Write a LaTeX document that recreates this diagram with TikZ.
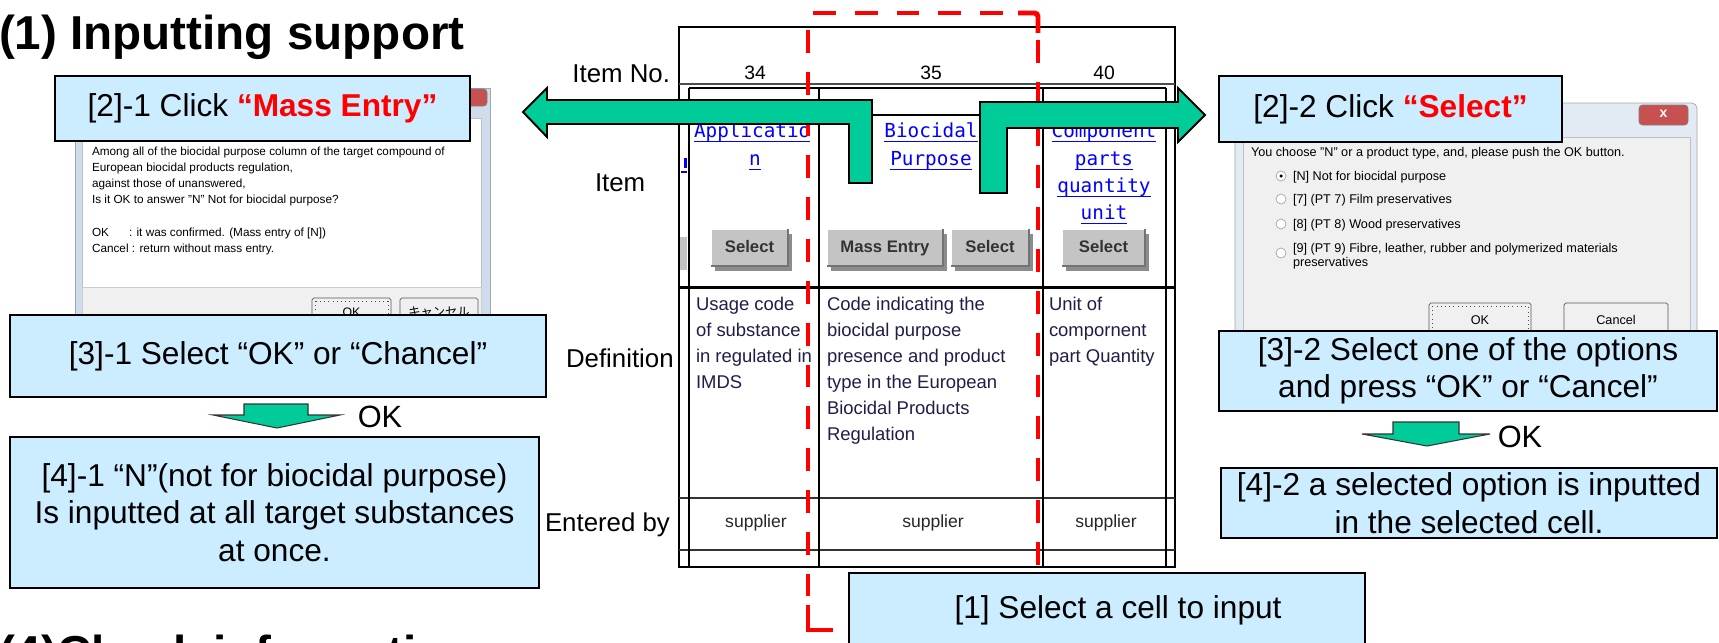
\documentclass[tikz,border=0pt]{standalone}
\usepackage{fontspec}
\setmainfont{Liberation Sans}
\newfontfamily\monofnt{DejaVu Sans Mono}
\newfontfamily\jpfont{Noto Sans CJK JP}
\definecolor{boxfill}{RGB}{204,236,255}
\definecolor{arrowgreen}{RGB}{0,204,153}
\definecolor{linkblue}{RGB}{0,0,255}
\definecolor{deftxt}{RGB}{30,30,70}
\definecolor{btnface}{RGB}{196,196,196}
\definecolor{dlgframe}{RGB}{206,220,236}
\definecolor{dlgbg}{RGB}{240,240,240}
\definecolor{closered}{RGB}{199,80,80}
\newcommand{\xlbutton}[6]{%
  \fill[black!45] (#2+4,#3+5) rectangle (#4+4,#5+5);
  \fill[btnface] (#2,#3) rectangle (#4,#5);
  \draw[white, line width=0.8pt] (#2,#5) -- (#2,#3) -- (#4,#3);
  \draw[black!55, line width=0.8pt] (#2,#5) -- (#4,#5) -- (#4,#3);
  \node[btntext] (#1) at ({(#2+#4)/2},{(#3+#5)/2+5}) {#6};
}
\newcommand{\ulink}[1]{\setbox0\hbox{#1}\rlap{\rule[-3pt]{\wd0}{0.9pt}}\box0}
\begin{document}
\begin{tikzpicture}[x=0.02cm,y=-0.02cm,
  every node/.style={inner sep=0pt, outer sep=0pt},
  infobox/.style={draw=black, line width=1.2pt, fill=boxfill, align=center, font=\fontsize{18}{21.3}\selectfont},
  lbl/.style={font=\fontsize{14.7}{16}\selectfont},
  hdr/.style={font=\fontsize{11}{12}\selectfont, anchor=base},
  lnk/.style={font=\monofnt\fontsize{11}{13}\selectfont, text=linkblue, anchor=base},
  deftext/.style={font=\fontsize{10.5}{12}\selectfont, text=deftxt, anchor=base west},
  supp/.style={font=\fontsize{10}{12}\selectfont, text=black!85, anchor=base},
  btntext/.style={font=\bfseries\fontsize{9.5}{11}\selectfont, text=black!80, anchor=base},
  dlg/.style={font=\fontsize{6.7}{8}\selectfont, anchor=base west},
  rdlg/.style={font=\fontsize{7.2}{8.5}\selectfont, anchor=base west},
  tthin/.style={line width=0.6pt},
  tthick/.style={line width=1.4pt},
  greenarrow/.style={fill=arrowgreen, draw=black, line width=1.1pt, line join=miter},
  okarrow/.style={fill=arrowgreen, draw=black!80, line width=0.6pt},
  selbox/.style={draw=red, line width=2.8pt, dash pattern=on 13pt off 10.8pt},
  titlefont/.style={font=\bfseries\fontsize{27.1}{30}\selectfont, anchor=base west},
  okfont/.style={font=\fontsize{17.5}{20}\selectfont},
]
\useasboundingbox (0,0) rectangle (1719,642);

% ---------- titles ----------
\node[titlefont] (title1) at (-1,50) {(1) Inputting support};
\node[titlefont] (title4) at (-1,669) {(4)Check information};

% ---------- left dialog ----------
\draw[fill=dlgframe, draw=gray!70] (75,88) rectangle (490,335);
\draw[fill=white, draw=gray!50] (82,118) rectangle (481,287);
\draw[fill=dlgbg, draw=gray!40] (82,287) rectangle (481,335);
\draw[fill=closered, draw=black!50, rounded corners=2pt] (440,89) rectangle (487,106);
\node[dlg] (ld1) at (92,155) {Among all of the biocidal purpose column of the target compound of};
\node[dlg] (ld2) at (92,171) {European biocidal products regulation,};
\node[dlg] (ld3) at (92,187) {against those of unanswered,};
\node[dlg] (ld4) at (92,203) {Is it OK to answer "N" Not for biocidal purpose?};
\node[dlg] (ld5) at (92,236) {OK};
\node[dlg] (ld6) at (129,236) {: it was confirmed. (Mass entry of [N])};
\node[dlg] (ld7) at (92,252) {Cancel : return without mass entry.};
\draw[fill=gray!12, draw=gray!70!black, rounded corners=1pt] (312,298) rectangle (391,335);
\draw[dotted, gray!60!black] (315,301) rectangle (388,332);
\node[font=\fontsize{7}{8}\selectfont] (lok) at (351.5,312) {OK};
\draw[fill=gray!12, draw=gray!70!black, rounded corners=1pt] (400,298) rectangle (478,335);
\node[font=\jpfont\fontsize{7}{8}\selectfont] (lcan) at (439,312) {キャンセル};

% ---------- right dialog ----------
\draw[fill=dlgframe!60!white, draw=gray!70, rounded corners=3pt] (1235,103) rectangle (1697,345);
\draw[fill=dlgbg, draw=gray!50] (1243,137) rectangle (1690,345);
\draw[fill=closered, draw=black!50, rounded corners=2pt] (1639,105) rectangle (1688,125);
\node[text=white, font=\bfseries\fontsize{8}{9}\selectfont] (rclose) at (1663.5,114) {x};
\node[rdlg] (rd0) at (1251,156) {You choose "N" or a product type, and, please push the OK button.};
\node[rdlg] (rd1) at (1293,180) {[N] Not for biocidal purpose};
\node[rdlg] (rd2) at (1293,203) {[7] (PT 7) Film preservatives};
\node[rdlg] (rd3) at (1293,228) {[8] (PT 8) Wood preservatives};
\node[rdlg] (rd4) at (1293,252) {[9] (PT 9) Fibre, leather, rubber and polymerized materials};
\node[rdlg] (rd5) at (1293,266) {preservatives};
\foreach \yy in {176,199,224,253}{
  \draw[fill=white, draw=gray!70] (1281,\yy) circle [radius=0.1cm];
}
\fill[black] (1281,176) circle [radius=0.035cm];
\draw[fill=gray!12, draw=gray!70!black, rounded corners=1pt] (1429,303) rectangle (1531,340);
\draw[dotted, gray!60!black] (1432,306) rectangle (1528,337);
\node[font=\fontsize{7.2}{8}\selectfont] (rok) at (1480,320) {OK};
\draw[fill=gray!12, draw=gray!70!black, rounded corners=1pt] (1564,303) rectangle (1668,340);
\node[font=\fontsize{7.2}{8}\selectfont] (rcan) at (1616,320) {Cancel};

% ---------- table ----------
\draw[tthin] (679,27) rectangle (1175,567);
\draw[tthin, black!70] (679,84) -- (1175,84);
\draw[tthick] (689,88) -- (1166,88);
\draw[tthin] (689,115) -- (1166,115);
\draw[tthick] (679,287.5) -- (1175,287.5);
\draw[line width=1pt, black!80] (679,498) -- (1175,498);
\draw[line width=1pt, black!80] (679,550) -- (1175,550);
\draw[tthick] (689,88) -- (689,567);
\draw[tthick] (819,88) -- (819,567);
\draw[tthick] (1043,88) -- (1043,567);
\draw[tthick] (1166,88) -- (1166,567);
% fragments of the column left of 34
\fill[btnface] (680,237) rectangle (687,270);
\fill[linkblue] (684,158) rectangle (687,168);
\draw[linkblue, line width=0.8pt] (681,172) -- (687,172);

% header numbers
\node[hdr] (n34) at (755,80) {34};
\node[hdr] (n35) at (931,80) {35};
\node[hdr] (n40) at (1104,80) {40};

% item names
\node[lnk, anchor=base west] (i34a) at (694,137) {\ulink{Applicatio}};
\node[lnk] (i34b) at (755,165) {\ulink{n}};
\node[lnk] (i35a) at (931,137) {\ulink{Biocidal}};
\node[lnk] (i35b) at (931,165) {\ulink{Purpose}};
\node[lnk] (i40a) at (1104,137) {\ulink{Component}};
\node[lnk] (i40b) at (1104,165) {\ulink{parts}};
\node[lnk] (i40c) at (1104,192) {\ulink{quantity}};
\node[lnk] (i40d) at (1104,219) {\ulink{unit}};

% buttons
\xlbutton{b34}{711}{229}{788}{266}{Select}
\xlbutton{b35m}{827}{229}{943}{266}{Mass Entry}
\xlbutton{b35s}{951}{229}{1029}{266}{Select}
\xlbutton{b40}{1062}{229}{1145}{266}{Select}

% definitions
\foreach \t [count=\i] in {Usage code,of substance,in regulated in,IMDS}
  \node[deftext] (d34-\i) at (696,{310+26*(\i-1)}) {\t};
\foreach \t [count=\i] in {Code indicating the,biocidal purpose,presence and product,type in the European,Biocidal Products,Regulation}
  \node[deftext] (d35-\i) at (827,{310+26*(\i-1)}) {\t};
\foreach \t [count=\i] in {Unit of,compornent,part Quantity}
  \node[deftext] (d40-\i) at (1049,{310+26*(\i-1)}) {\t};

% entered by
\node[supp] (s34) at (756,527) {supplier};
\node[supp] (s35) at (933,527) {supplier};
\node[supp] (s40) at (1106,527) {supplier};

% row labels
\node[lbl, anchor=base east] (lno) at (670,83) {Item No.};
\node[lbl, anchor=base west] (litem) at (595,191) {Item};
\node[lbl, anchor=base west] (ldef) at (566,367) {Definition};
\node[lbl, anchor=base west] (lent) at (545,531) {Entered by};

% ---------- red selection frame ----------
\draw[selbox] (808,30) -- (808,605);
\draw[draw=red, line width=2.8pt] (808,605) -- (808,630) -- (833,630);
\draw[selbox] (813,13) -- (1020,13);
\draw[draw=red, line width=2.8pt, rounded corners=2pt] (1018,13) -- (1038,13) -- (1038,33);
\draw[selbox] (1038,40) -- (1038,567);

% ---------- green bent arrows ----------
\draw[greenarrow] (523,112) -- (547,88) -- (547,100) -- (872,100) -- (872,183) -- (849,183) -- (849,124) -- (547,124) -- (547,137) -- cycle;
\draw[greenarrow] (980,193) -- (980,102) -- (1178,102) -- (1178,88) -- (1205,115) -- (1178,142) -- (1178,128) -- (1007,128) -- (1007,193) -- cycle;

% ---------- info boxes ----------
\node[infobox, minimum width=8.30cm, minimum height=1.30cm] (b21) at (262.5,108.5) {[2]-1 Click \textcolor{red}{\bfseries “Mass Entry”}};
\node[infobox, minimum width=6.86cm, minimum height=1.32cm] (b22) at (1390.5,109) {[2]-2 Click \textcolor{red}{\bfseries “Select”}};
\node[infobox, minimum width=10.72cm, minimum height=1.64cm] (b31) at (278,356) {[3]-1 Select “OK” or “Chancel”};
\node[infobox, minimum width=10.58cm, minimum height=3.02cm] (b41) at (274.5,512.5) {[4]-1 “N”(not for biocidal purpose)\\Is inputted at all target substances\\at once.};
\node[infobox, minimum width=9.96cm, minimum height=1.60cm] (b32) at (1468,371) {[3]-2 Select one of the options\\and press “OK” or “Cancel”};
\node[infobox, minimum width=9.92cm, minimum height=1.40cm] (b42) at (1469,503) {[4]-2 a selected option is inputted\\in the selected cell.};
\draw[draw=black, line width=1.2pt, fill=boxfill] (849,573) rectangle (1365,650);
\node[font=\fontsize{18}{21.3}\selectfont] (b1) at (1118,610) {[1] Select a cell to input};

% ---------- OK arrows ----------
\draw[okarrow] (244,404) -- (308,404) -- (308,415) -- (340,415) -- (277,428) -- (213,415) -- (244,415) -- cycle;
\node[okfont] (okl) at (380,417) {OK};
\draw[okarrow] (1393,422) -- (1459,422) -- (1459,434) -- (1490,434) -- (1427,446) -- (1362,434) -- (1393,434) -- cycle;
\node[okfont] (okr) at (1520,437) {OK};
\end{tikzpicture}
\end{document}
